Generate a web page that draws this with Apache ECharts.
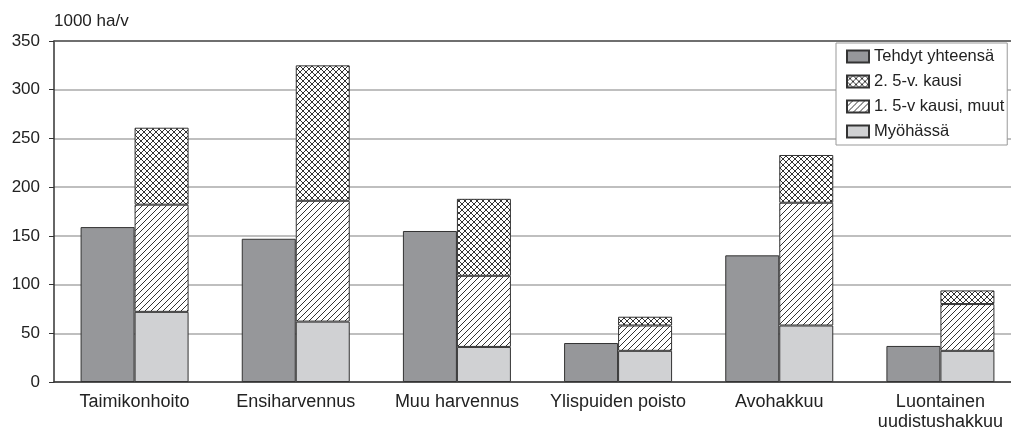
<!DOCTYPE html>
<html>
<head>
<meta charset="utf-8">
<script src="https://cdn.jsdelivr.net/npm/echarts@6/dist/echarts.min.js"></script>
<style>
  html, body { margin: 0; padding: 0; background: #fff; overflow: hidden; }
  #chart { width: 1021px; height: 432px; }
</style>
</head>
<body>
<div id="chart"></div>
<script>
const categories = ['Taimikonhoito', 'Ensiharvennus', 'Muu harvennus', 'Ylispuiden poisto', 'Avohakkuu', 'Luontainen\nuudistushakkuu']
const tehdyt = [159, 147, 155, 40, 130, 37]
const myohassa = [72, 62, 36, 32, 58, 32]
const kausi1 = [110, 124, 73, 26, 126, 48]
const kausi2 = [79, 139, 79, 9, 49, 14]
const yTicks = [0, 50, 100, 150, 200, 250, 300, 350]

// pattern fills for the hatched parts
function makePattern(cross) {
  const c = document.createElement('canvas')
  c.width = 6
  c.height = 6
  const ctx = c.getContext('2d')
  ctx.fillStyle = '#fff'
  ctx.fillRect(0, 0, 6, 6)
  ctx.strokeStyle = '#333'
  ctx.lineWidth = 1
  ctx.beginPath()
  ctx.moveTo(-1, 7); ctx.lineTo(7, -1)
  if (cross) {
    ctx.moveTo(-1, -1); ctx.lineTo(7, 7)
  } else {
    ctx.moveTo(-1, 1); ctx.lineTo(1, -1)
    ctx.moveTo(5, 7); ctx.lineTo(7, 5)
  }
  ctx.stroke()
  return c
}
const hatch = { image: makePattern(false), repeat: 'repeat' }
const crossHatch = { image: makePattern(true), repeat: 'repeat' }

const chart = echarts.init(document.getElementById('chart'))
const font = 'Liberation Sans, Arial, sans-serif'
const edge = { borderColor: '#333', borderWidth: 1 }

chart.setOption({
  animation: false,
  textStyle: { fontFamily: font },
  grid: { left: 54, right: 0, top: 41, bottom: 50 },
  legend: {
    left: 836,
    top: 43,
    orient: 'vertical',
    icon: 'rect',
    backgroundColor: '#fff',
    borderColor: '#999',
    borderWidth: 1,
    padding: [5, 3, 5, 10],
    itemGap: 8,
    itemWidth: 22,
    itemHeight: 12,
    data: ['Tehdyt yhteensä', '2. 5-v. kausi', '1. 5-v kausi, muut', 'Myöhässä'],
    textStyle: { fontSize: 16.5, lineHeight: 16, color: '#222', fontFamily: font }
  },
  xAxis: [{
    type: 'category',
    data: categories,
    axisLine: { lineStyle: { color: '#333', width: 1.5 } },
    axisTick: { show: false },
    axisLabel: { interval: 0, fontSize: 18, color: '#222', margin: 10, lineHeight: 20, fontFamily: font }
  }, {
    type: 'category',
    data: categories,
    position: 'top',
    axisLine: { lineStyle: { color: '#555', width: 1.5 } },
    axisTick: { show: false },
    axisLabel: { show: false }
  }],
  yAxis: {
    type: 'value',
    min: yTicks[0],
    max: yTicks[yTicks.length - 1],
    interval: 50,
    name: '1000 ha/v',
    nameGap: 11,
    nameTextStyle: { align: 'left', fontSize: 17, color: '#222', fontFamily: font },
    axisLine: { show: true, lineStyle: { color: '#333', width: 1.5 } },
    axisTick: { show: true, length: 5, lineStyle: { color: '#333' } },
    axisLabel: { fontSize: 17, color: '#222', margin: 14, fontFamily: font },
    splitLine: { lineStyle: { color: '#aaa', width: 1.5 } }
  },
  series: [{
    name: 'Tehdyt yhteensä',
    type: 'bar',
    stack: 'done',
    barWidth: 54,
    barGap: '0%',
    data: tehdyt,
    itemStyle: Object.assign({ color: '#96979a' }, edge)
  }, {
    name: 'Myöhässä',
    type: 'bar',
    stack: 'plan',
    barWidth: 54,
    data: myohassa,
    itemStyle: Object.assign({ color: '#d0d1d3' }, edge)
  }, {
    name: '1. 5-v kausi, muut',
    type: 'bar',
    stack: 'plan',
    barWidth: 54,
    data: kausi1,
    itemStyle: Object.assign({ color: hatch }, edge)
  }, {
    name: '2. 5-v. kausi',
    type: 'bar',
    stack: 'plan',
    barWidth: 54,
    data: kausi2,
    itemStyle: Object.assign({ color: crossHatch }, edge)
  }]
})
</script>
</body>
</html>
